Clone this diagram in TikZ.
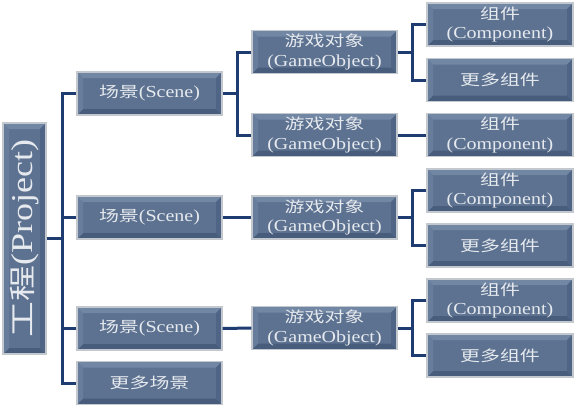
\documentclass[tikz,border=0pt]{standalone}
\usepackage{fontspec}
\setmainfont{Liberation Serif}[Scale=1.12,FakeStretch=1.19]
\newfontfamily\cjk{Noto Sans CJK SC}[FakeStretch=1.33]
\definecolor{boxmid}{HTML}{5C7290}
\definecolor{boxtop}{HTML}{7287A4}
\definecolor{boxleft}{HTML}{687D9B}
\definecolor{boxbot}{HTML}{485C7C}
\definecolor{boxright}{HTML}{506585}
\definecolor{boxedge}{HTML}{C3C8CF}
\definecolor{linkcol}{HTML}{1E3C72}
\definecolor{txtcol}{HTML}{E6E9EE}
\tikzset{
  bevelbox/.style={draw=boxedge, line width=1.4pt, fill=boxmid, inner sep=0pt,
    minimum height=43pt, align=center, text=txtcol,
    font=\fontsize{15}{19.5}\selectfont,
    path picture={
      \fill[boxtop] (path picture bounding box.north west) -- (path picture bounding box.north east)
        -- ([shift={(-6pt,-6pt)}]path picture bounding box.north east) -- ([shift={(6pt,-6pt)}]path picture bounding box.north west) -- cycle;
      \fill[boxbot] (path picture bounding box.south west) -- (path picture bounding box.south east)
        -- ([shift={(-6pt,6pt)}]path picture bounding box.south east) -- ([shift={(6pt,6pt)}]path picture bounding box.south west) -- cycle;
      \fill[boxleft] (path picture bounding box.north west) -- (path picture bounding box.south west)
        -- ([shift={(6pt,6pt)}]path picture bounding box.south west) -- ([shift={(6pt,-6pt)}]path picture bounding box.north west) -- cycle;
      \fill[boxright] (path picture bounding box.north east) -- (path picture bounding box.south east)
        -- ([shift={(-6pt,6pt)}]path picture bounding box.south east) -- ([shift={(-6pt,-6pt)}]path picture bounding box.north east) -- cycle;
    }},
  scenebox/.style={bevelbox, minimum width=145pt},
  gobox/.style={bevelbox, minimum width=145pt},
  compbox/.style={bevelbox, minimum width=146pt},
  link/.style={draw=linkcol, line width=3pt}
}
\begin{document}
\begin{tikzpicture}[x=1pt,y=-1pt]
\useasboundingbox (0,0) rectangle (579,408);
% project
\node[bevelbox, minimum width=43pt, minimum height=231pt] (P) at (24.5,238.5) {};
\node[text=txtcol, rotate=90, font=\fontsize{27}{30}\selectfont, inner sep=0pt] (Ptext) at (P.center) {{\cjk 工程}(Project)};
% scenes
\node[scenebox] (S1) at (149.5,93.5) {{\cjk 场景}(Scene)};
\node[scenebox] (S2) at (149.5,217.5) {{\cjk 场景}(Scene)};
\node[scenebox] (S3) at (149.5,328.5) {{\cjk 场景}(Scene)};
\node[scenebox] (MS) at (149.5,383) {{\cjk 更多场景}};
% game objects
\node[gobox] (G1) at (324.5,52) {{\cjk 游戏对象}\\(GameObject)};
\node[gobox] (G2) at (324.5,135) {{\cjk 游戏对象}\\(GameObject)};
\node[gobox] (G3) at (324.5,217.5) {{\cjk 游戏对象}\\(GameObject)};
\node[gobox] (G4) at (324.5,328) {{\cjk 游戏对象}\\(GameObject)};
% components
\node[compbox] (C1) at (500,24.5) {{\cjk 组件}\\(Component)};
\node[compbox] (M1) at (500,80) {{\cjk 更多组件}};
\node[compbox] (C2) at (500,135) {{\cjk 组件}\\(Component)};
\node[compbox] (C3) at (500,190.5) {{\cjk 组件}\\(Component)};
\node[compbox] (M3) at (500,245.5) {{\cjk 更多组件}};
\node[compbox] (C4) at (500,300.5) {{\cjk 组件}\\(Component)};
\node[compbox] (M4) at (500,355.5) {{\cjk 更多组件}};
% junctions
\coordinate (t) at (62,238.5);
\coordinate (j1) at (237,93.5);
\coordinate (k1) at (412,52);
\coordinate (k3) at (412,217.5);
\coordinate (k4) at (412,328);
% trunk
\draw[link] (P.east) -- (t);
\draw[link] (S1.west) -| (t) |- (MS.west);
\draw[link] (S2.west) -- (S2.west -| t);
\draw[link] (S3.west) -- (S3.west -| t);
% scene -> game objects
\draw[link] (S1.east) -- (j1);
\draw[link] (G1.west) -| (j1) |- (G2.west);
\draw[link] (S2.east) -- (G3.west);
\draw[link] (S3.east) -- (G4.west);
% game objects -> components
\draw[link] (G1.east) -- (k1);
\draw[link] (C1.west) -| (k1) |- (M1.west);
\draw[link] (G2.east) -- (C2.west);
\draw[link] (G3.east) -- (k3);
\draw[link] (C3.west) -| (k3) |- (M3.west);
\draw[link] (G4.east) -- (k4);
\draw[link] (C4.west) -| (k4) |- (M4.west);
\end{tikzpicture}
\end{document}
